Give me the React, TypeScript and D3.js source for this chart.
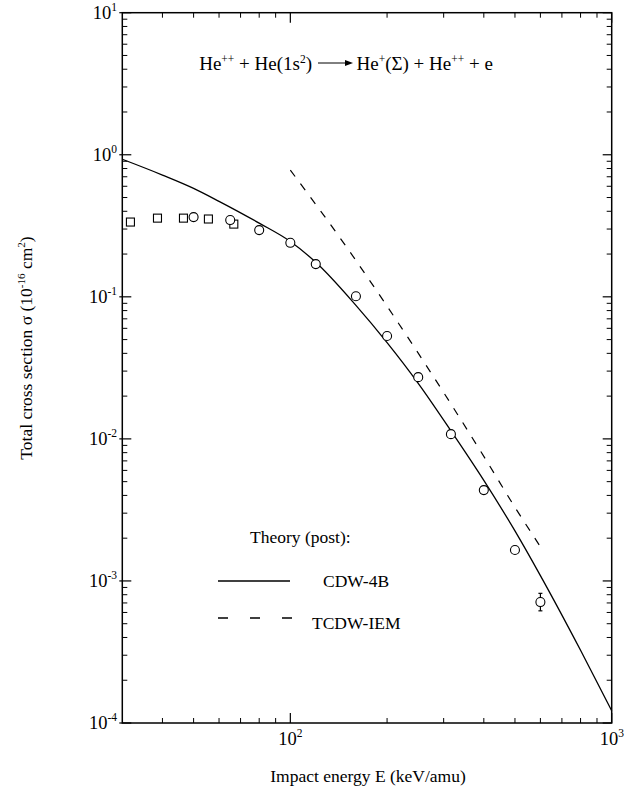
import * as d3 from "d3";

// Chart size (the page window)
const width = 640;
const height = 797;

// Theory (post): CDW-4B, solid curve
const cdwEnergy = [30, 40, 50, 60, 80, 100, 120, 160, 200, 250, 316, 400, 500, 600, 800, 1000];
const cdwSigma = [0.93, 0.72, 0.58, 0.47, 0.33, 0.245, 0.175, 0.087, 0.0476, 0.0246, 0.0114, 0.0051, 0.00225, 0.00109, 0.000325, 0.000122];

// Theory (post): TCDW-IEM, dashed curve
const tcdwEnergy = [100, 150, 200, 300, 400, 500, 600];
const tcdwSigma = [0.78, 0.222, 0.0859, 0.0212, 0.00753, 0.0033, 0.00174];

// Experiment, circles
const circleEnergy = [50, 65, 80, 100, 120, 160, 200, 250, 316, 400, 500, 600];
const circleSigma = [0.364, 0.347, 0.295, 0.24, 0.17, 0.101, 0.053, 0.0272, 0.0108, 0.00436, 0.00165, 0.00071];
// error bar on the last circle
const errorEnergy = [600];
const errorLow = [0.000616];
const errorHigh = [0.000818];

// Experiment, squares
const squareEnergy = [31.8, 38.6, 46.5, 55.6, 66.7];
const squareSigma = [0.336, 0.358, 0.358, 0.353, 0.325];

// Axis ticks
const yMajor = [1e-4, 1e-3, 1e-2, 1e-1, 1, 10];
const yExponents = ["-4", "-3", "-2", "-1", "0", "1"];
const xMajor = [100, 1000];
const xExponents = ["2", "3"];

const font = "'Liberation Serif', 'Times New Roman', serif";

export default function App() {
    const x = d3.scaleLog().domain([30, 1000]).range([122.3, 611.7]);
    const y = d3.scaleLog().domain([1e-4, 10]).range([723, 12.7]);

    const [x0, x1] = x.range();
    const [y0, y1] = y.range();

    // minor ticks: 2..9 in each decade
    const yMinor: number[] = [];
    for (let d = -4; d < 1; d++) {
        for (let m = 2; m <= 9; m++) yMinor.push(m * Math.pow(10, d));
    }
    const xMinor: number[] = [];
    [10, 100].forEach(dec => {
        for (let m = 2; m <= 9; m++) {
            const v = m * dec;
            if (v > 30 && v < 1000 && v !== 100) xMinor.push(v);
        }
    });

    const cdwPath = d3.line<number>()
        .curve(d3.curveMonotoneX)
        .x((_, i) => x(cdwEnergy[i]))
        .y((_, i) => y(cdwSigma[i]))(cdwEnergy);
    const tcdwPath = d3.line<number>()
        .curve(d3.curveMonotoneX)
        .x((_, i) => x(tcdwEnergy[i]))
        .y((_, i) => y(tcdwSigma[i]))(tcdwEnergy);

    return (
        <svg width={width} height={height}
            style={{ position: "absolute", left: 0, top: 0, background: "#fff", fontFamily: font }}
            fill="#000">
            {/* frame */}
            <rect x={x0} y={y1} width={x1 - x0} height={y0 - y1} fill="none" stroke="#000" strokeWidth={1.5} />

            {/* y ticks, left and right */}
            {yMinor.map(v => (
                <g key={"ym" + v} stroke="#000" strokeWidth={1}>
                    <line x1={x0} x2={x0 + 5} y1={y(v)} y2={y(v)} />
                    <line x1={x1} x2={x1 - 5} y1={y(v)} y2={y(v)} />
                </g>
            ))}
            {yMajor.map(v => (
                <g key={"yM" + v} stroke="#000" strokeWidth={1.2}>
                    <line x1={x0 - 3} x2={x0 + 9} y1={y(v)} y2={y(v)} />
                    <line x1={x1} x2={x1 - 9} y1={y(v)} y2={y(v)} />
                </g>
            ))}
            {yMajor.map((v, i) => (
                <text key={"yl" + v} x={117} y={y(v) + 6} textAnchor="end" fontSize={18.5}>
                    10<tspan dy={-8} fontSize={11.5}>{yExponents[i]}</tspan>
                </text>
            ))}

            {/* x ticks, bottom and top */}
            {xMinor.map(v => (
                <g key={"xm" + v} stroke="#000" strokeWidth={1}>
                    <line x1={x(v)} x2={x(v)} y1={y0} y2={y0 - 5} />
                    <line x1={x(v)} x2={x(v)} y1={y1} y2={y1 + 5} />
                </g>
            ))}
            {xMajor.map(v => (
                <g key={"xM" + v} stroke="#000" strokeWidth={1.2}>
                    <line x1={x(v)} x2={x(v)} y1={y0} y2={y0 - 10} />
                    <line x1={x(v)} x2={x(v)} y1={y1} y2={y1 + 10} />
                </g>
            ))}
            {xMajor.map((v, i) => (
                <text key={"xl" + v} x={x(v) - 12} y={745} fontSize={18.5}>
                    10<tspan dy={-8} fontSize={11.5}>{xExponents[i]}</tspan>
                </text>
            ))}

            {/* axis titles */}
            <text x={368} y={782} textAnchor="middle" fontSize={17.5}>Impact energy E (keV/amu)</text>
            <text transform="translate(32,348) rotate(-90)" textAnchor="middle" fontSize={17.5}>
                Total cross section σ (10<tspan dy={-7} fontSize={11}>-16</tspan>
                <tspan dy={7}> cm</tspan><tspan dy={-7} fontSize={11}>2</tspan><tspan dy={7}>)</tspan>
            </text>

            {/* reaction */}
            <text x={312} y={69.5} textAnchor="end" fontSize={19}>
                He<tspan dy={-7} fontSize={11.5}>++</tspan><tspan dy={7}> + He(1s</tspan>
                <tspan dy={-7} fontSize={11.5}>2</tspan><tspan dy={7}>)</tspan>
            </text>
            <line x1={318} x2={347} y1={63} y2={63} stroke="#000" strokeWidth={1} />
            <path d="M345,60 L353,63 L345,66 Z" fill="#000" />
            <text x={356.5} y={69.5} fontSize={19}>
                He<tspan dy={-7} fontSize={11.5}>+</tspan><tspan dy={7}>(Σ) + He</tspan>
                <tspan dy={-7} fontSize={11.5}>++</tspan><tspan dy={7}> + e</tspan>
            </text>

            {/* theory curves */}
            <path d={cdwPath ?? ""} fill="none" stroke="#000" strokeWidth={1.3} />
            <path d={tcdwPath ?? ""} fill="none" stroke="#000" strokeWidth={1.2} strokeDasharray="8,9" />

            {/* error bars */}
            {errorEnergy.map((e, i) => (
                <g key={"err" + e} stroke="#000" strokeWidth={1.2}>
                    <line x1={x(e)} x2={x(e)} y1={y(errorLow[i])} y2={y(errorHigh[i])} />
                    <line x1={x(e) - 2} x2={x(e) + 2} y1={y(errorLow[i])} y2={y(errorLow[i])} />
                    <line x1={x(e) - 2} x2={x(e) + 2} y1={y(errorHigh[i])} y2={y(errorHigh[i])} />
                </g>
            ))}

            {/* experiment symbols */}
            {squareEnergy.map((e, i) => (
                <rect key={"sq" + e} x={x(e) - 4} y={y(squareSigma[i]) - 4} width={8} height={8}
                    fill="#fff" stroke="#000" strokeWidth={1.1} />
            ))}
            {circleEnergy.map((e, i) => (
                <circle key={"c" + e} cx={x(e)} cy={y(circleSigma[i])} r={4.5}
                    fill="#fff" stroke="#000" strokeWidth={1.1} />
            ))}

            {/* legend */}
            <text x={250} y={543} fontSize={17.5}>Theory (post):</text>
            <line x1={218} x2={290} y1={581} y2={581} stroke="#000" strokeWidth={1.3} />
            <text x={323} y={587} fontSize={17.5}>CDW-4B</text>
            <line x1={218} x2={294} y1={618} y2={618} stroke="#000" strokeWidth={1.3} strokeDasharray="10,22" />
            <text x={312} y={629} fontSize={17.5}>TCDW-IEM</text>
        </svg>
    );
}
